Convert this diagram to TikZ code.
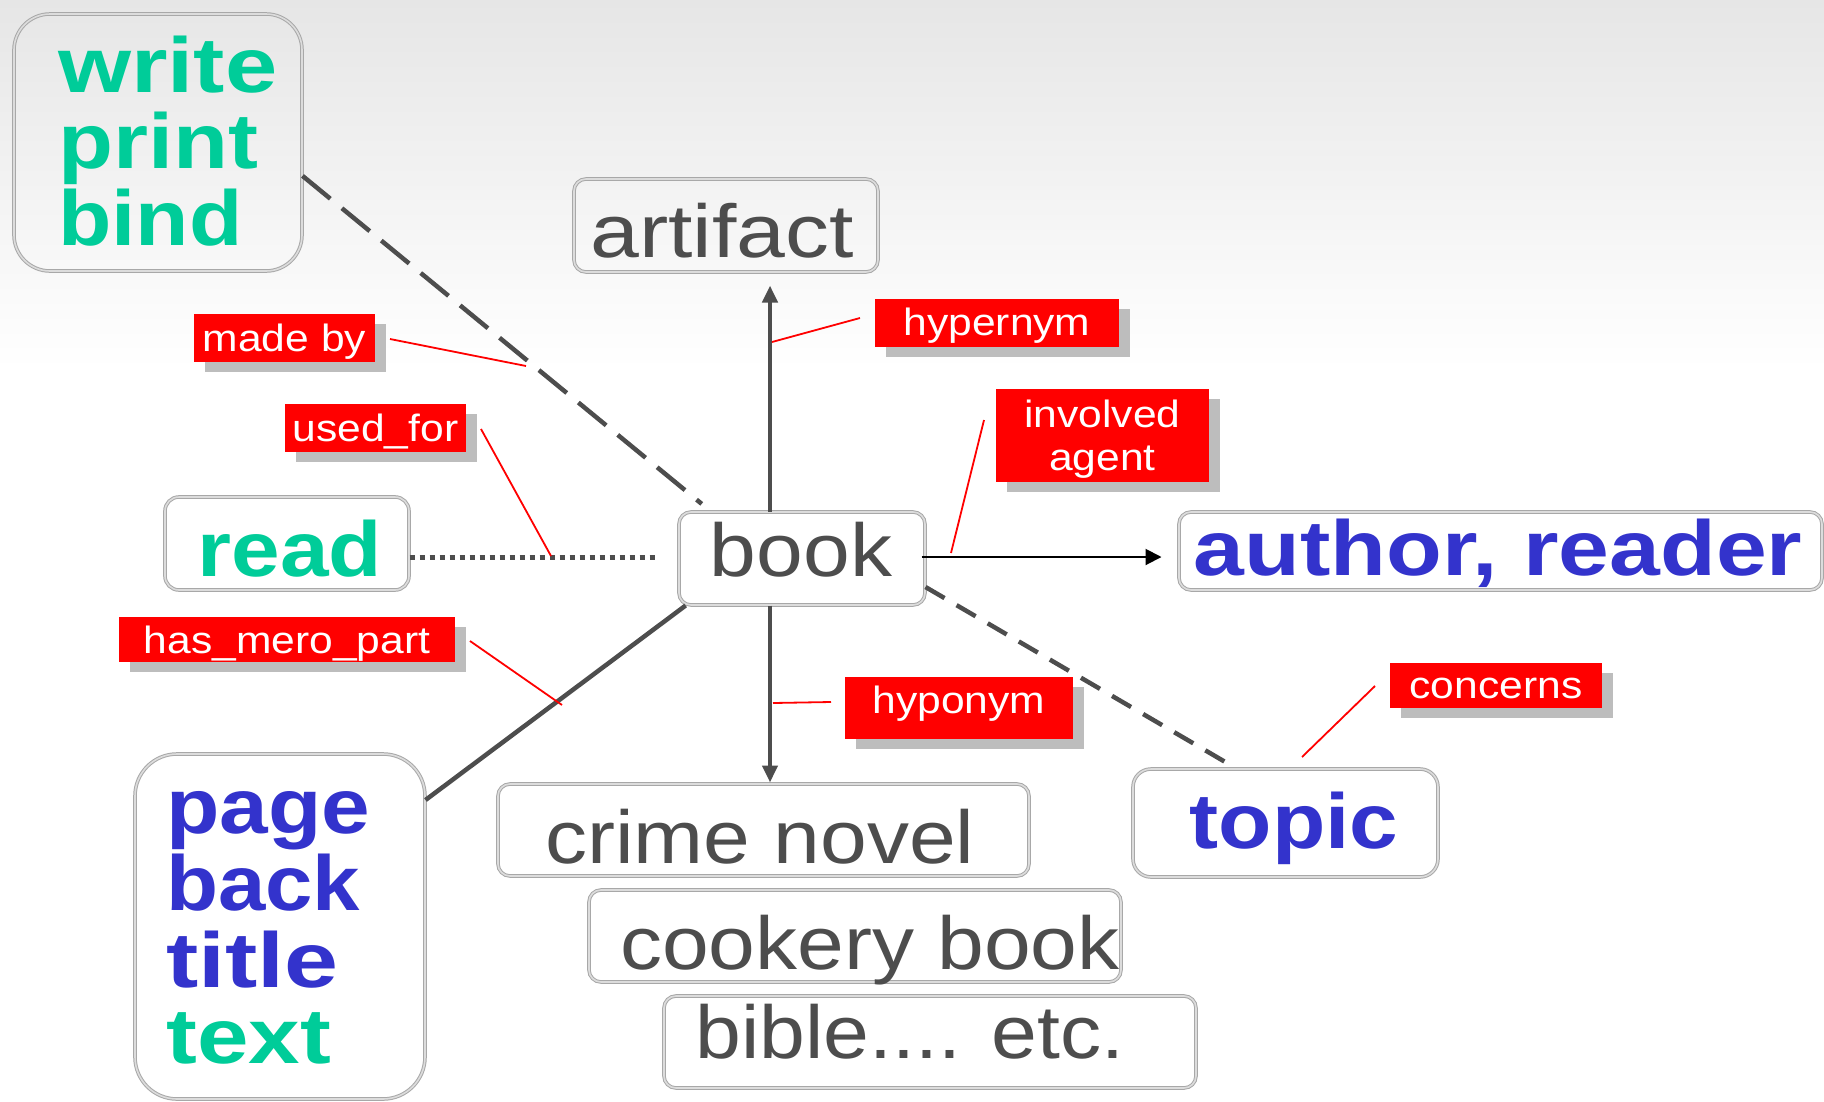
\documentclass[tikz,border=0pt]{standalone}
\usepackage{graphicx}
\usepackage{fontspec}
\setmainfont{Liberation Sans}[FakeStretch=1.12]
\usetikzlibrary{arrows.meta,shadows,calc}
\definecolor{grn}{HTML}{00CC99}
\definecolor{blu}{HTML}{3333CC}
\definecolor{dgray}{HTML}{4D4D4D}
\definecolor{lred}{HTML}{FF0000}
\definecolor{bord}{HTML}{A8A8A8}
\definecolor{bordin}{HTML}{DCDCDC}
\definecolor{shd}{HTML}{BDBDBD}
\definecolor{bgtop}{HTML}{E6E6E6}
\tikzset{
  box/.style={draw=bord, line width=1pt, double=bordin, double distance=1.6pt,
    rounded corners=12pt, inner sep=0pt},
  gtxt/.style={text=dgray, font=\fontsize{75}{80}\selectfont, inner sep=0pt},
  btxt/.style={font=\bfseries\fontsize{78}{80}\selectfont, inner sep=0pt},
  lab/.style={fill=lred, text=white, font=\fontsize{38}{43}\selectfont, inner sep=0pt,
    text height=27pt, general shadow={fill=shd, shadow xshift=10.5pt, shadow yshift=-10pt}},
  conn/.style={draw=dgray, line width=4.5pt},
  dashA/.style={conn, dash pattern=on 36pt off 15pt},
  dashB/.style={conn, dash pattern=on 22pt off 14pt},
  dotA/.style={conn, line width=5pt, dash pattern=on 5pt off 5pt},
  arrA/.style={conn, -{Triangle[length=17pt,width=15pt]}},
  blkA/.style={draw=black, line width=2pt, -{Triangle[length=16pt,width=16pt]}},
  leader/.style={draw=lred, line width=1.8pt},
}
\begin{document}
\begin{tikzpicture}[x=1pt,y=-1pt]
\useasboundingbox (0,0) rectangle (1824,1101);
\fill[white] (0,0) rectangle (1824,1101);
\shade[top color=bgtop, bottom color=white] (0,0) rectangle (1824,370);

% ---------- boxes ----------
\node[box, rounded corners=36pt, minimum width=288pt, minimum height=257pt] (wpb) at (158,142.5) {};
\node[btxt, text=grn, anchor=base west] (t-write) at (58,92) {\scalebox{1.075}[1]{write}};
\node[btxt, text=grn, anchor=base west] (t-print) at (58,168) {\scalebox{1.03}[1]{print}};
\node[btxt, text=grn, anchor=base west] (t-bind) at (58,245) {bind};

\node[box, minimum width=304pt, minimum height=93pt] (artifact) at (726,225.5) {};
\node[gtxt, anchor=base] (t-artifact) at (722,257) {\scalebox{1.045}[1]{artifact}};

\node[box, minimum width=246pt, minimum height=93pt] (book) at (802,558.5) {};
\node[gtxt, anchor=base] (t-book) at (801,576) {book};

\node[box, rounded corners=14pt, minimum width=244pt, minimum height=93pt] (read) at (287,543.5) {};
\node[btxt, text=grn, anchor=base] (t-read) at (290,576) {read};

\node[box, minimum width=643pt, minimum height=78pt] (author) at (1500.5,551) {};
\node[btxt, text=blu, anchor=base] (t-author) at (1498,575) {\scalebox{1.045}[1]{author, reader}};

\node[box, rounded corners=18pt, minimum width=305pt, minimum height=108pt] (topic) at (1285.5,823) {};
\node[btxt, text=blu, anchor=base] (t-topic) at (1294,848) {topic};

\node[box, rounded corners=42pt, minimum width=290pt, minimum height=345pt] (page) at (280,926.5) {};
\node[btxt, text=blu, anchor=base west] (t-page) at (166,833) {page};
\node[btxt, text=blu, anchor=base west] (t-back) at (166,910) {\scalebox{0.975}[1]{back}};
\node[btxt, text=blu, anchor=base west] (t-title) at (166,987) {\scalebox{1.11}[1]{title}};
\node[btxt, text=grn, anchor=base west] (t-text) at (166,1063) {\scalebox{1.06}[1]{text}};

\node[box, minimum width=531pt, minimum height=92pt] (crime) at (763.5,830) {};
\node[gtxt, anchor=base] (t-crime) at (760,863) {crime novel};

\node[box, minimum width=532pt, minimum height=92pt] (cookery) at (855,936) {};
\node[gtxt, anchor=base] (t-cookery) at (870,969) {cookery book};

\node[box, minimum width=532pt, minimum height=92pt] (bible) at (930,1042) {};
\node[gtxt, anchor=base] (t-bible) at (910,1058) {\scalebox{0.98}[1]{bible.... etc.}};

% ---------- connectors ----------
\draw[dashA, shorten >=12pt] (wpb.-13.8) -- ($(book.north)+(-91,0)$);
\draw[arrA] ($(book.north)+(-32,0)$) -- ($(artifact.south)+(44,13)$);
\draw[arrA] ($(book.south)+(-32,0)$) -- ($(crime.north)+(6.5,-1)$);
\draw[blkA, shorten >=17pt] ($(book.east)+(-4,-1.5)$) -- ($(book.east -| author.west)+(0,-1.5)$);
\draw[dotA, shorten >=20pt] ($(read.east |- book.west)+(0,-1.5)$) -- ($(book.west)+(0,-1.5)$);
\draw[conn] (book.202.66) -- (page.41.77);
\draw[dashB, shorten >=4pt] (book.-13.25) -- (topic.132.15);

% ---------- relation labels ----------
\node[lab, text depth=0pt, minimum width=181pt, minimum height=48pt] (madeby) at (284.5,338) {made by};
\node[lab, text depth=0pt, minimum width=181pt, minimum height=48pt] (usedfor) at (375.5,428) {used\_for};
\node[lab, text depth=3pt, minimum width=244pt, minimum height=48pt] (hypernym) at (997,323) {hypernym};
\node[lab, text height=0pt, text depth=0pt, minimum width=213pt, minimum height=93pt] (involved) at (1102.5,435.5) {};
\node[text=white, font=\fontsize{38}{43}\selectfont, inner sep=0pt, anchor=base] (t-involved) at (1102.5,427) {involved};
\node[text=white, font=\fontsize{38}{43}\selectfont, inner sep=0pt, anchor=base] (t-agent) at (1102.5,470) {agent};
\node[lab, text depth=0pt, minimum width=336pt, minimum height=45pt] (hasmero) at (287,639.5) {has\_mero\_part};
\node[lab, text depth=17pt, minimum width=228pt, minimum height=62pt] (hyponym) at (959,708) {hyponym};
\node[lab, text depth=2pt, minimum width=212pt, minimum height=45pt] (concerns) at (1496,685.5) {concerns};

% ---------- leader lines ----------
\coordinate (mb-a) at (390,339);   \coordinate (mb-b) at (526,366);
\coordinate (uf-a) at (481,429);   \coordinate (uf-b) at (551,556);
\coordinate (hy-a) at (860,318);   \coordinate (hy-b) at (772,342);
\coordinate (ia-a) at (984,420);   \coordinate (ia-b) at (951,553);
\coordinate (hm-a) at (470,641);   \coordinate (hm-b) at (562,705);
\coordinate (ho-a) at (831,702);   \coordinate (ho-b) at (773,703);
\coordinate (co-a) at (1375,686);  \coordinate (co-b) at (1302,757);
\draw[leader] (mb-a) -- (mb-b);
\draw[leader] (uf-a) -- (uf-b);
\draw[leader] (hy-a) -- (hy-b);
\draw[leader] (ia-a) -- (ia-b);
\draw[leader] (hm-a) -- (hm-b);
\draw[leader] (ho-a) -- (ho-b);
\draw[leader] (co-a) -- (co-b);
\end{tikzpicture}
\end{document}
